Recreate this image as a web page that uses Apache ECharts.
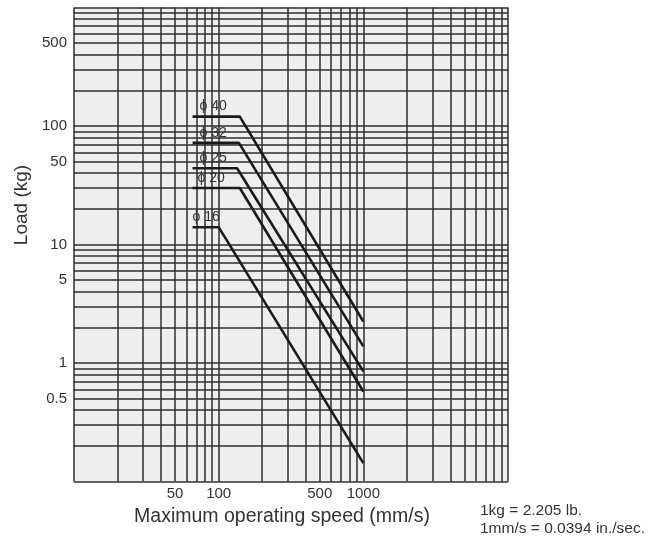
<!DOCTYPE html>
<html>
<head>
<meta charset="utf-8">
<script src="https://cdn.jsdelivr.net/npm/echarts@6/dist/echarts.min.js"></script>
<style>
html,body{margin:0;padding:0;background:#fff;}
#chart{width:661px;height:537px;}
</style>
</head>
<body>
<div id="chart"></div>
<script>
// ---- data ----
const seriesNames = ['ϕ 40', 'ϕ 32', 'ϕ 25', 'ϕ 20', 'ϕ 16'];
const speed40 = [66, 140, 1000];
const load40  = [120, 120, 2.24];
const speed32 = [66, 138, 1000];
const load32  = [72, 72, 1.38];
const speed25 = [66, 134, 1000];
const load25  = [44, 44, 0.85];
const speed20 = [66, 140, 1000];
const load20  = [30, 30, 0.575];
const speed16 = [66, 100, 1000];
const load16  = [14, 14, 0.143];

const xTickLabels = [50, 100, 500, 1000];
const yTickLabels = [0.5, 1, 5, 10, 50, 100, 500];
const xGrid = [10,20,30,40,50,60,70,80,90,100,200,300,400,500,600,700,800,900,1000,2000,3000,4000,5000,6000,7000,8000,9000,10000];
const yGrid = [0.1,0.2,0.3,0.4,0.5,0.6,0.7,0.8,0.9,1,2,3,4,5,6,7,8,9,10,20,30,40,50,60,70,80,90,100,200,300,400,500,600,700,800,900,1000];

const xAxisTitle = 'Maximum operating speed (mm/s)';
const yAxisTitle = 'Load (kg)';
const noteLines = ['1kg = 2.205 lb.', '1mm/s = 0.0394 in./sec.'];

// ---- build ----
const pairs = (xs, ys) => xs.map((x, i) => [x, ys[i]]);
const curves = [
  pairs(speed40, load40),
  pairs(speed32, load32),
  pairs(speed25, load25),
  pairs(speed20, load20),
  pairs(speed16, load16)
];
const labelOffsets = [[7, -10], [7, -10], [7, -10], [5, -10], [0, -10]];

const fontFam = '"Liberation Sans", Arial, sans-serif';

const dataSeries = curves.map((d, i) => ({
  name: seriesNames[i],
  type: 'line',
  data: d,
  z: 5,
  symbol: 'circle',
  symbolSize: 0,
  showSymbol: true,
  silent: true,
  lineStyle: { color: '#1a1a1a', width: 2.6 },
  itemStyle: { color: '#1a1a1a' },
  label: {
    show: true,
    position: 'right',
    distance: 0,
    offset: labelOffsets[i],
    color: '#333',
    fontSize: 14,
    fontFamily: fontFam,
    formatter: p => (p.dataIndex === 0 ? seriesNames[i] : '')
  }
}));

const gridSeries = {
  type: 'line',
  data: [[10, 0.1]],
  showSymbol: false,
  lineStyle: { opacity: 0 },
  z: 1,
  silent: true,
  markLine: {
    silent: true,
    symbol: ['none', 'none'],
    label: { show: false },
    animation: false,
    lineStyle: { color: '#2e2e2e', width: 1.5, type: 'solid' },
    data: xGrid.map(v => ({ xAxis: v })).concat(yGrid.map(v => ({ yAxis: v })))
  }
};

const chart = echarts.init(document.getElementById('chart'), null, { renderer: 'canvas' });
chart.setOption({
  animation: false,
  backgroundColor: '#fff',
  grid: {
    left: 74, right: 153, top: 7.5, bottom: 55.5,
    show: true, backgroundColor: '#eeeeee', borderWidth: 0,
    containLabel: false
  },
  xAxis: {
    type: 'log', logBase: 10, min: 10, max: 10000,
    axisLine: { show: false }, axisTick: { show: false },
    splitLine: { show: false }, minorSplitLine: { show: false },
    axisLabel: {
      customValues: xTickLabels,
      margin: 5, color: '#333', fontSize: 15, fontFamily: fontFam,
      formatter: v => String(v)
    }
  },
  yAxis: {
    type: 'log', logBase: 10, min: 0.1, max: 1000,
    axisLine: { show: false }, axisTick: { show: false },
    splitLine: { show: false }, minorSplitLine: { show: false },
    axisLabel: {
      customValues: yTickLabels,
      margin: 7, color: '#333', fontSize: 15, fontFamily: fontFam,
      formatter: v => String(v)
    }
  },
  series: [gridSeries].concat(dataSeries),
  graphic: [
    {
      type: 'text', x: 22, y: 205, rotation: Math.PI / 2,
      style: { text: yAxisTitle, fill: '#333', fontSize: 19, fontFamily: fontFam, align: 'center', verticalAlign: 'middle' }
    },
    {
      type: 'text', x: 282, y: 517,
      style: { text: xAxisTitle, fill: '#333', fontSize: 19.5, fontFamily: fontFam, align: 'center', verticalAlign: 'middle' }
    },
    {
      type: 'text', x: 480, y: 511,
      style: { text: noteLines[0], fill: '#333', fontSize: 15.5, fontFamily: fontFam, align: 'left', verticalAlign: 'middle' }
    },
    {
      type: 'text', x: 480, y: 529,
      style: { text: noteLines[1], fill: '#333', fontSize: 15.5, fontFamily: fontFam, align: 'left', verticalAlign: 'middle' }
    }
  ]
});
</script>
</body>
</html>
